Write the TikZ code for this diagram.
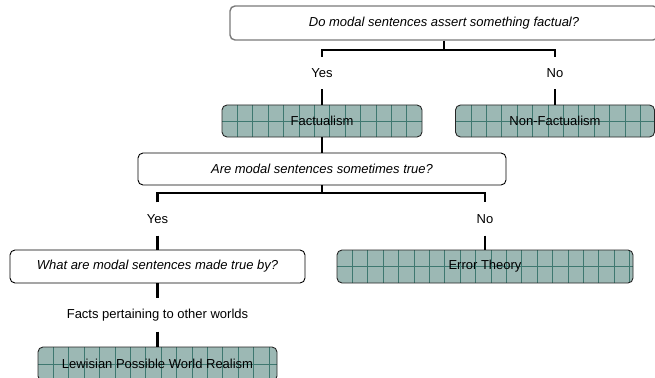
\documentclass[tikz,border=0pt]{standalone}
\usepackage{fontspec}
\setmainfont{Liberation Sans}
\definecolor{boxfill}{HTML}{9CB8B4}
\definecolor{gridcol}{HTML}{3E7870}
\definecolor{qgray}{HTML}{7A7A7A}
\tikzset{
  qbox/.style={draw=black, line width=0.9, rounded corners=5, fill=white, inner sep=0,
    font=\fontsize{13}{15}\selectfont\itshape},
  gbox/.style={draw=black!85, line width=0.9, rounded corners=5, fill=boxfill, inner sep=0,
    font=\fontsize{13}{15}\selectfont,
    path picture={
      \foreach \i in {1,...,24}
        \draw[gridcol, line width=0.7] ([xshift=\i*15.4pt]path picture bounding box.north west) -- ([xshift=\i*15.4pt]path picture bounding box.south west);
      \draw[gridcol, line width=0.7] (path picture bounding box.west) -- (path picture bounding box.east);
    }},
  lbl/.style={inner sep=0, minimum width=20, font=\fontsize{13}{15}\selectfont},
  conn/.style={draw=black, line width=2.4}
}
\begin{document}
\begin{tikzpicture}[x=1pt, y=-1pt]
\useasboundingbox (0,0) rectangle (655,377);
\clip (0,0) rectangle (655,377);
% question 1
\node[qbox, draw=qgray, line width=1.4, minimum width=428, minimum height=34] (q1) at (444,23) {Do modal sentences assert something factual?};
\node[lbl, minimum height=32] (yes1) at (322,73) {Yes};
\node[lbl, minimum height=32] (no1) at (555,73) {No};
\node[gbox, minimum width=200, minimum height=32] (fact) at (322,121) {Factualism};
\node[gbox, minimum width=199, minimum height=32] (nonfact) at (555,121) {Non-Factualism};
% question 2
\node[qbox, minimum width=368, minimum height=32] (q2) at (322,169) {Are modal sentences sometimes true?};
\node[lbl, minimum height=33] (yes2) at (157.5,219) {Yes};
\node[lbl, minimum height=33] (no2) at (485,219) {No};
\node[qbox, minimum width=295, minimum height=33] (q3) at (157.5,266.5) {What are modal sentences made true by?};
\node[gbox, minimum width=296, minimum height=33] (err) at (485,266.5) {Error Theory};
\node[lbl, minimum height=33] (facts) at (157.5,315) {Facts pertaining to other worlds};
\node[gbox, minimum width=239, minimum height=34] (lew) at (157.5,364) {Lewisian Possible World Realism};
% connectors
\coordinate (b1) at (444,50);
\coordinate (b2) at (322,193);
\draw[conn] (q1.south) -- (b1);
\draw[conn] (yes1.north) |- (b1) -| (no1.north);
\draw[conn] (yes1.south) -- (fact.north);
\draw[conn] (no1.south) -- (nonfact.north);
\draw[conn] (fact.south) -- (q2.north);
\draw[conn] (q2.south) -- (b2);
\draw[conn] (yes2.north) |- (b2) -| (no2.north);
\draw[conn] (yes2.south) -- (q3.north);
\draw[conn] (no2.south) -- (err.north);
\draw[conn] (q3.south) -- (facts.north);
\draw[conn] (facts.south) -- (lew.north);
\end{tikzpicture}
\end{document}
